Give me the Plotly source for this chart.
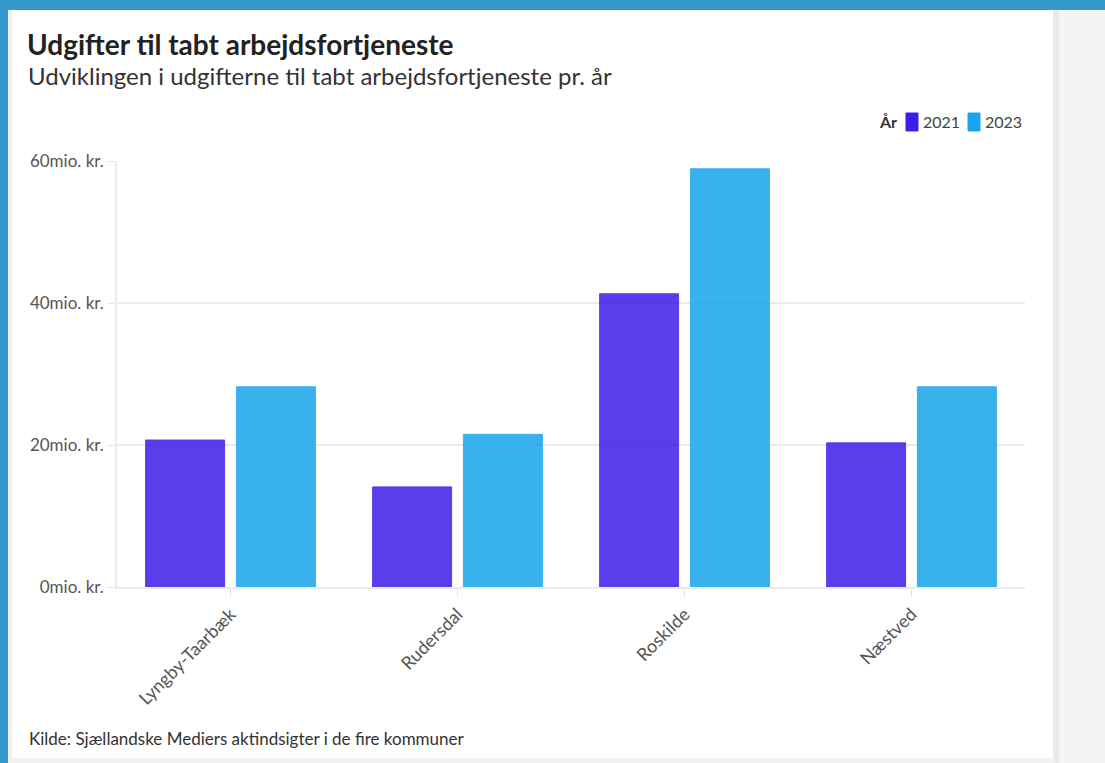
import plotly.graph_objects as go

categories = ["Lyngby-Taarbæk", "Rudersdal", "Roskilde", "Næstved"]
values_2021 = [20.7, 14.1, 41.3, 20.3]
values_2023 = [28.2, 21.5, 58.9, 28.2]
series_names = ["2021", "2023"]
series_colors = ["#3b1ee8", "#16a4eb"]
y_ticks = [0, 20, 40, 60]
y_tick_labels = [f"{v}mio. kr." for v in y_ticks]

W, H = 1105, 763
L, R, T, B = 117, 1025, 161, 587
FONT = "Lato"


def px(x):
    return (x - L) / (R - L)


def py(y):
    return (B - y) / (B - T)


fig = go.Figure()
for name, vals, col in zip(series_names, [values_2021, values_2023], series_colors):
    fig.add_trace(go.Bar(
        x=categories, y=vals, name=name,
        marker=dict(color=col, line=dict(color=col, width=1)),
        opacity=0.85, showlegend=False,
    ))

shapes = [
    dict(type="rect", xref="paper", yref="paper", x0=px(1053), x1=px(1060), y0=py(H), y1=py(10),
         fillcolor="#e9e9e9", line_width=0, layer="below"),
    dict(type="rect", xref="paper", yref="paper", x0=px(1059), x1=px(W), y0=py(H), y1=py(10),
         fillcolor="#f4f4f4", line_width=0, layer="below"),
    dict(type="rect", xref="paper", yref="paper", x0=px(0), x1=px(W), y0=py(10), y1=py(0),
         fillcolor="#3598cc", line_width=0, layer="above"),
    dict(type="rect", xref="paper", yref="paper", x0=px(0), x1=px(8), y0=py(H), y1=py(0),
         fillcolor="#3598cc", line_width=0, layer="above"),
    dict(type="rect", xref="paper", yref="paper", x0=px(8), x1=px(12), y0=py(H), y1=py(10),
         fillcolor="#efefef", line_width=0, layer="below"),
    dict(type="rect", xref="paper", yref="paper", x0=px(8), x1=px(1055), y0=py(H), y1=py(758),
         fillcolor="#f1f1f1", line_width=0, layer="below"),
]

annotations = [
    dict(text="Udviklingen i udgifterne til tabt arbejdsfortjeneste pr. år",
         xref="paper", yref="paper", x=px(26), y=py(76), xanchor="left", yanchor="middle",
         showarrow=False, font=dict(family=FONT, size=24, color="#333333")),
    dict(text="Kilde: Sjællandske Mediers aktindsigter i de fire kommuner",
         xref="paper", yref="paper", x=px(27), y=py(738), xanchor="left", yanchor="middle",
         showarrow=False, font=dict(family=FONT, size=17, color="#333333")),
    dict(text="<b>År</b>", xref="paper", yref="paper", x=px(877), y=py(122),
         xanchor="left", yanchor="middle", showarrow=False,
         font=dict(family=FONT, size=16, color="#333333")),
]

legend_layout = [(906, 921), (968, 983)]
for (sx, tx), name, col in zip(legend_layout, series_names, series_colors):
    shapes.append(dict(type="rect", xref="paper", yref="paper",
                       x0=px(sx), x1=px(sx + 12), y0=py(131), y1=py(113),
                       fillcolor=col, line=dict(color=col, width=1)))
    annotations.append(dict(text=name, xref="paper", yref="paper", x=px(tx), y=py(122),
                            xanchor="left", yanchor="middle", showarrow=False,
                            font=dict(family=FONT, size=16, color="#444444")))

fig.update_layout(
    width=W, height=H,
    margin=dict(l=L, r=W - R, t=T, b=H - B, pad=0),
    paper_bgcolor="white", plot_bgcolor="rgba(0,0,0,0)",
    font=dict(family=FONT, color="#555555"),
    title=dict(text="<b>Udgifter til tabt arbejdsfortjeneste</b>",
               x=27 / W, xanchor="left", xref="container",
               y=1 - 45 / H, yanchor="middle", yref="container",
               font=dict(family=FONT, size=28, color="#222222")),
    barmode="group", bargap=0.2, bargroupgap=0.13,
    shapes=shapes, annotations=annotations,
    xaxis=dict(
        tickangle=-45, tickfont=dict(family=FONT, size=18, color="#555555"),
        ticks="outside", ticklen=8, tickcolor="#e6e6e6", showgrid=False,
        showline=True, linecolor="#ebebeb", linewidth=1.5, zeroline=False,
    ),
    yaxis=dict(
        range=[0, 60], tickvals=y_ticks, ticktext=y_tick_labels,
        tickfont=dict(family=FONT, size=17, color="#555555"),
        ticks="outside", ticklen=8, tickcolor="#e6e6e6",
        showgrid=True, gridcolor="#ebebeb", gridwidth=1.5,
        showline=True, linecolor="#ebebeb", linewidth=1.5, zeroline=False,
    ),
)

fig.write_html("out.html", config={"displayModeBar": False},
               post_script="document.body.style.margin='0';document.body.style.overflow='hidden';")
